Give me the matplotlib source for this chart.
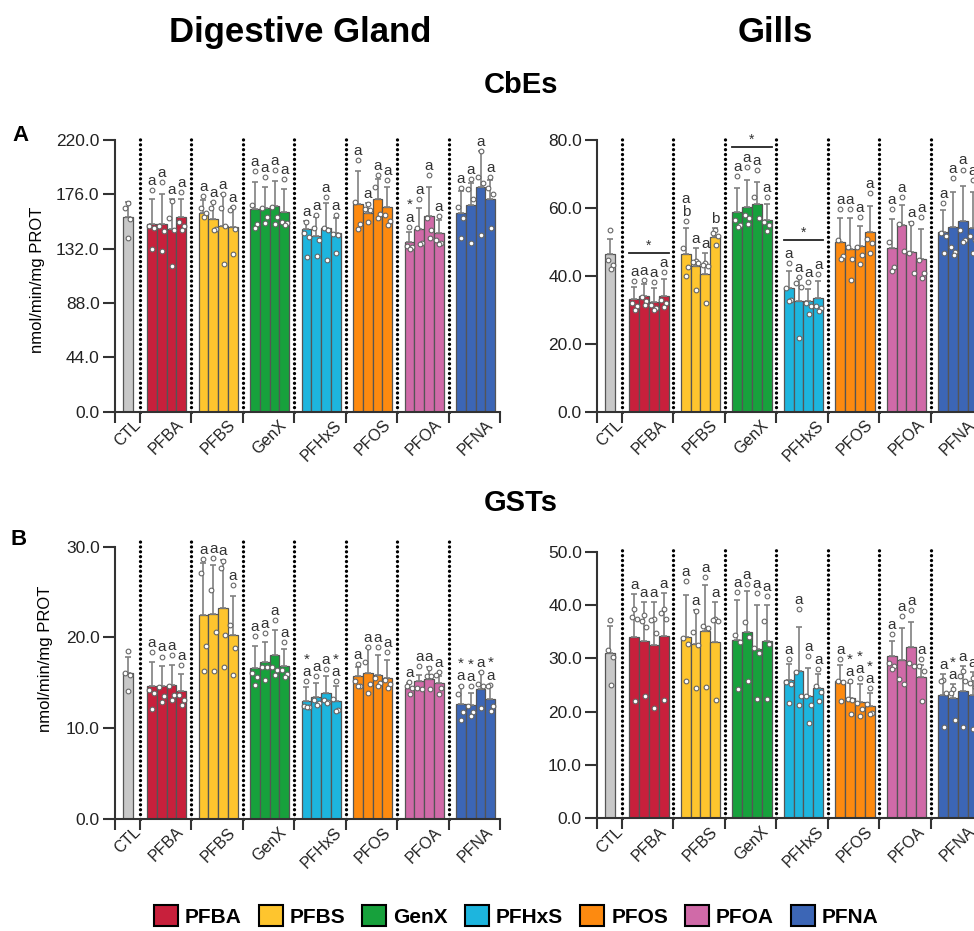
import matplotlib.pyplot as plt
from matplotlib.patches import Patch
from matplotlib.ticker import FormatStrFormatter
import numpy as np

plt.rcParams['font.family'] = 'Liberation Sans'

groups = ['PFBA', 'PFBS', 'GenX', 'PFHxS', 'PFOS', 'PFOA', 'PFNA']
colors = ['#c8203c', '#fec52e', '#17a13c', '#1db5de', '#fd8a10', '#d06aa8', '#3c66b6']
ctl_color = '#c8c8c8'

# values: CTL first, then 4 exposure levels for each compound
dg_cbe_mean = [157.4,
               152.2, 151.7, 147.6, 157.4,
               160.6, 156.0, 150.6, 149.8,
               164.4, 165.2, 166.3, 161.4,
               147.9, 142.5, 149.0, 144.4,
               167.9, 160.6, 172.0, 165.5,
               137.6, 147.6, 158.4, 144.4,
               160.6, 167.3, 181.6, 172.5]
dg_cbe_sd = [12.1,
             20.0, 24.3, 24.6, 14.6,
             10.8, 13.5, 25.4, 16.2,
             21.8, 17.0, 20.7, 18.6,
             6.4, 14.9, 19.7, 12.1,
             27.0, 8.6, 16.4, 16.1,
             8.1, 17.0, 23.2, 10.8,
             18.4, 17.7, 29.7, 15.5]
dg_cbe_pts = [[169, 165, 156, 141],
              [179.5, 150, 149, 131.7], [186, 150, 146, 130], [171, 156.5, 147, 118], [178, 154, 150, 147],
              [175, 165, 161, 158], [169.5, 165, 148, 147], [176, 165, 150, 120], [166, 163, 148, 128],
              [194.6, 167, 152, 149], [189.7, 164.6, 158, 153], [195.7, 166, 158, 152], [188.4, 154, 153, 151],
              [153.8, 145, 141.7, 125], [159, 149, 139, 126], [173.5, 148.4, 147, 123], [159, 144, 143, 128.7],
              [203.8, 170, 152, 147.6], [168, 164, 163, 154], [191.6, 181.6, 160, 156.5], [187.6, 159, 154.6, 151],
              [149.8, 134, 133, 132], [172, 149, 137, 135.5], [191.6, 156.5, 147, 141], [158.4, 139, 137, 136],
              [181, 165.5, 157, 141], [188.4, 180, 172, 137], [211, 190, 185, 143], [189.7, 180.8, 176, 148.4]]
dg_cbe_marks = [''] + ['a'] * 20 + ['*\na', 'a', 'a', 'a'] + ['a'] * 4

gi_cbe_mean = [46.3,
               33.1, 34.1, 32.2, 34.1,
               46.4, 43.0, 40.5, 51.3,
               58.7, 60.4, 61.3, 56.4,
               36.3, 32.7, 32.5, 33.6,
               50.0, 47.8, 48.8, 52.9,
               48.3, 55.0, 46.9, 45.0,
               53.0, 54.3, 56.1, 54.2]
gi_cbe_sd = [4.7,
             3.7, 3.4, 4.1, 4.9,
             7.8, 5.1, 6.1, 2.7,
             7.1, 7.8, 6.4, 4.7,
             5.2, 6.6, 3.6, 4.9,
             6.9, 9.1, 6.0, 7.7,
             8.4, 5.8, 9.0, 8.7,
             6.4, 10.5, 10.3, 10.6]
gi_cbe_pts = [[53.5, 44.7, 43.2, 41.9],
              [38.5, 32.1, 31, 30], [38.8, 33.9, 32.5, 31.4], [38.2, 31.5, 30.4, 30], [41.2, 33, 32, 30.9],
              [56.2, 48.3, 42.7, 40], [44.4, 44.2, 43.8, 35.8], [43.7, 43.2, 43, 31.9], [53.5, 52.7, 51.7, 49],
              [69.4, 56.4, 55, 54.5], [72.1, 57.9, 57, 55.2], [71.1, 63.3, 57], [63.3, 56, 55, 53.2],
              [43.9, 36.3, 33, 32.7], [39.7, 38, 36.8, 21.6], [38.1, 32, 31, 28.7], [40.4, 31.1, 30.4, 29.7],
              [59.7, 50.7, 45.8, 45], [59.6, 48.6, 45.1, 38.8], [57.2, 48.6, 46.1, 43.5], [64.3, 51, 49.8, 46.6],
              [59.6, 50, 42.5, 41.5], [63.3, 55.3, 47.4], [55.6, 46.6, 40.9], [57.4, 44.8, 40.7, 39.3],
              [61.5, 52.7, 51.7, 46.6], [68.7, 48.6, 46.9, 46.2], [71.3, 53.5, 50.6, 50.1], [68.2, 51.6, 50.6, 46.6]]
gi_cbe_marks = [''] + ['a'] * 4 + ['a\nb', 'a', 'a', 'b'] + ['a'] * 20
gi_cbe_sig = [(0, 46.8), (2, 78.0), (3, 50.5)]

dg_gst_mean = [16.1,
               14.65, 14.7, 14.8, 14.1,
               22.5, 22.6, 23.2, 20.3,
               16.6, 17.3, 18.1, 16.9,
               13.0, 13.4, 13.9, 13.0,
               15.8, 16.1, 15.9, 15.5,
               14.4, 15.2, 15.4, 15.0,
               12.7, 12.6, 14.3, 13.2]
dg_gst_sd = [1.8,
             2.65, 2.2, 2.2, 1.9,
             5.7, 5.4, 5.3, 4.3,
             2.5, 2.2, 2.7, 1.8,
             1.5, 1.55, 1.8, 1.6,
             1.0, 2.7, 2.2, 2.0,
             0.6, 0.7, 1.4, 0.7,
             2.0, 1.3, 1.9, 1.5]
dg_gst_pts = [[18.5, 16.1, 15.9, 14.1],
              [18.4, 14.2, 13.9, 12.1], [17.9, 14.5, 13.5, 12.9], [18.1, 14.6, 13.7, 13.1], [17, 13.7, 13.1, 12.6],
              [28.6, 27.1, 19.1, 16.3], [28.7, 25.2, 20.6, 16.3], [28.4, 27.6, 20.3, 16.8], [25.8, 21.4, 18.8, 15.9],
              [20.2, 16.1, 15.6, 14.8], [20.5, 16.8, 16.7, 15.3], [21.9, 16.8, 16.4, 15.9], [19.5, 16.4, 16, 15.6],
              [15.2, 12.4, 12.3, 12.3], [15.7, 13.1, 12.8, 12.6], [16.5, 13.1, 12.9, 12.8], [15.2, 13.2, 12, 11.9],
              [17.1, 15.2, 14.6, 14.6], [18.9, 17.3, 14.9, 13.9], [18.9, 15.5, 15, 14.6], [18.4, 15.3, 14.9, 14.4],
              [15.1, 14.7, 14.4, 13.8], [16.9, 14.4, 14.3], [16.6, 15.8, 15.8, 14.3], [16.2, 15.9, 14.4, 13.8],
              [14.6, 13.8, 11.8, 10.9], [14.6, 12.4, 11.8, 11.4], [16.2, 14.9, 14.7, 12.2], [14.8, 14.6, 12.4, 11.9]]
dg_gst_marks = [''] + ['a'] * 12 + ['*\na', 'a', 'a', '*\na'] + ['a'] * 8 + ['*\na', '*\na', 'a', '*\na']

gi_gst_mean = [31.0,
               34.0, 33.3, 32.4, 34.1,
               34.0, 32.6, 35.2, 33.1,
               33.4, 34.9, 31.8, 33.3,
               25.9, 27.6, 22.9, 24.4,
               25.8, 22.6, 21.8, 21.1,
               30.4, 29.6, 32.1, 26.5,
               23.1, 22.6, 23.8, 23.1]
gi_gst_sd = [5.0,
             8.1, 7.2, 8.1, 8.1,
             7.9, 6.4, 8.5, 7.5,
             7.5, 7.7, 8.2, 6.6,
             3.1, 8.3, 5.3, 2.7,
             3.0, 2.8, 3.3, 2.4,
             2.8, 6.0, 4.7, 2.3,
             4.0, 2.5, 4.7, 4.3]
gi_gst_pts = [[37.2, 31.6, 30.2, 24.9],
              [39.3, 37.8, 37.3, 21.9], [38.2, 37, 35.9, 22.9], [37.3, 37.2, 34.8, 20.6], [39.3, 38.4, 37.3, 22.2],
              [44.5, 33.8, 32.6, 25.7], [38.8, 34.9, 32.5, 24.4], [45.2, 36, 35.7, 24.7], [37.3, 37.1, 37, 22.2],
              [42.5, 34.4, 33, 24.2], [43.9, 36.8, 34, 25.7], [42.2, 32, 31, 22.4], [41.7, 37, 32.7, 22.4],
              [29.9, 25.5, 25.2, 21.7], [39.2, 27.5, 22.9, 21.3], [30.4, 22.9, 21.3, 17.9], [28, 24.8, 23.7, 21.9],
              [29.8, 25.7, 25.5, 21.9], [25.7, 22.4, 22.2, 19.5], [26.3, 21.7, 20.4, 19.2], [24.4, 21.5, 19.7, 19.6],
              [34.5, 29.1, 28.5, 27.9], [38, 26.2, 25.1], [39, 29.1, 28.5], [29.8, 28.5, 27.7, 21.9],
              [26, 25.8, 23.5, 17.1], [24.2, 23.5, 18.4], [27.6, 26.7, 25.7, 17.1], [26.3, 25.4, 24.6, 16.8]]
gi_gst_marks = [''] + ['a'] * 16 + ['a', '*\na', '*\na', '*\na'] + ['a'] * 4 + ['a', '*\na', 'a', 'a']

# bar layout in units of one bar width
edges = [2.5 + 5.25 * k for k in range(8)]
xs = [1.3] + [edges[g] + 1.26 + j for g in range(7) for j in range(4)]
centers = [1.3] + [edges[g] + 2.76 for g in range(7)]
jitter = [0.0, -0.25, 0.25, 0.05]


def panel(ax, mean, sd, pts, marks, ymax, step, sig=()):
    bar_colors = [ctl_color] + [c for c in colors for _ in range(4)]
    ax.bar(xs, mean, width=1.0, color=bar_colors, edgecolor='#555555', linewidth=0.9, zorder=2)
    ax.errorbar(xs, mean, yerr=[np.zeros(len(sd)), sd], fmt='none', ecolor='#808080',
                elinewidth=1.2, capsize=2.2, capthick=1.2, zorder=3)
    for x, p in zip(xs, pts):
        p = sorted(p, reverse=True)
        ax.plot(x + np.array(jitter[:len(p)]), p, 'o', ms=3.4, mfc='white', mec='#666666',
                mew=0.8, zorder=4, clip_on=False)
    for x, m, s, p, t in zip(xs, mean, sd, pts, marks):
        if t:
            top = max(m + s, max(p))
            ax.annotate(t, (x, top), xytext=(0, 1.5), textcoords='offset points', ha='center',
                        va='bottom', fontsize=11, linespacing=0.85, color='#333333')
    # dotted separators between compounds
    for e in edges[:7]:
        ax.plot([e, e], [0, ymax * 1.02], color='black', lw=2.4, ls=(0, (0.01, 1.45)),
                dash_capstyle='round', clip_on=False, zorder=1)
    for g, y in sig:
        x0 = xs[1 + 4 * g] - 0.5
        x1 = xs[4 + 4 * g] + 0.5
        ax.plot([x0, x1], [y, y], color='#222222', lw=1.3, clip_on=False, zorder=5)
        ax.text((x0 + x1) / 2, y, '*', ha='center', va='bottom', fontsize=10, color='#333333')

    for s in ['top', 'right']:
        ax.spines[s].set_visible(False)
    for s in ['left', 'bottom']:
        ax.spines[s].set_linewidth(1.5)
        ax.spines[s].set_color('#333333')
    ax.set_xlim(0, edges[-1])
    ax.set_ylim(0, ymax)
    ax.set_yticks(np.arange(0, ymax + step / 2, step))
    ax.yaxis.set_major_formatter(FormatStrFormatter('%.1f'))
    ax.set_xticks([0] + edges, [''] * 9)
    ax.set_xticks(centers, ['CTL'] + groups, minor=True)
    ax.tick_params(axis='x', which='major', length=8, width=1.5, color='#333333')
    ax.tick_params(axis='x', which='minor', length=0, pad=4, labelsize=11.5, labelcolor='#222222')
    ax.tick_params(axis='y', length=8.6, width=1.5, color='#333333', labelsize=12.5, pad=2.5,
                   labelcolor='#222222')
    for lab in ax.get_xticklabels(minor=True):
        lab.set_rotation(45)
        lab.set_ha('center')
        lab.set_va('top')


fig = plt.figure(figsize=(9.74, 9.31), dpi=100)
ax1 = fig.add_axes([0.1181, 0.5578, 0.3953, 0.2918])
ax2 = fig.add_axes([0.6133, 0.5578, 0.3953, 0.2918])
ax3 = fig.add_axes([0.1181, 0.1203, 0.3953, 0.2925])
ax4 = fig.add_axes([0.6133, 0.1211, 0.3953, 0.2864])

panel(ax1, dg_cbe_mean, dg_cbe_sd, dg_cbe_pts, dg_cbe_marks, 220, 44)
panel(ax2, gi_cbe_mean, gi_cbe_sd, gi_cbe_pts, gi_cbe_marks, 80, 20, gi_cbe_sig)
panel(ax3, dg_gst_mean, dg_gst_sd, dg_gst_pts, dg_gst_marks, 30, 10)
panel(ax4, gi_gst_mean, gi_gst_sd, gi_gst_pts, gi_gst_marks, 50, 10)

fig.text(0.308, 0.9552, 'Digestive Gland', ha='center', va='baseline', fontsize=25, fontweight='bold')
fig.text(0.7962, 0.9549, 'Gills', ha='center', va='baseline', fontsize=25, fontweight='bold')
fig.text(0.5344, 0.8998, 'CbEs', ha='center', va='baseline', fontsize=21, fontweight='bold')
fig.text(0.5344, 0.4511, 'GSTs', ha='center', va='baseline', fontsize=21, fontweight='bold')
fig.text(0.0123, 0.8489, 'A', ha='left', va='baseline', fontsize=16, fontweight='bold')
fig.text(0.0105, 0.4146, 'B', ha='left', va='baseline', fontsize=16, fontweight='bold')
fig.text(0.0385, 0.6993, 'nmol/min/mg PROT', rotation=90, ha='center', va='center', fontsize=12)
fig.text(0.047, 0.2922, 'nmol/min/mg PROT', rotation=90, ha='center', va='center', fontsize=12)

handles = [Patch(facecolor=c, edgecolor='black', linewidth=1.5) for c in colors]
fig.legend(handles, groups, ncol=7, loc='center', bbox_to_anchor=(0.530, 0.016), frameon=False,
           handlelength=1.15, handleheight=1.15, handletextpad=0.35, columnspacing=0.8,
           prop={'weight': 'bold', 'size': 15})

fig.savefig('out.png', dpi=100)
